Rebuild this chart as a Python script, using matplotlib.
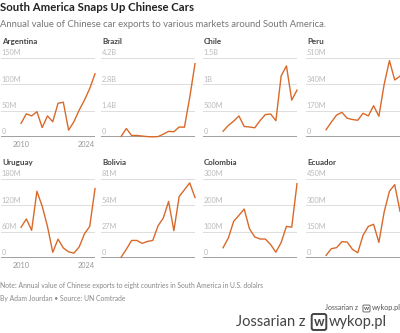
import numpy as np
import matplotlib as mpl
mpl.use("Agg")
import matplotlib.pyplot as plt

plt.rcParams['font.family'] = ['Lato', 'DejaVu Sans']

years = list(range(2010, 2025))
countries = ["Argentina", "Brazil", "Chile", "Peru",
             "Uruguay", "Bolivia", "Colombia", "Ecuador"]
# values in units of the tick labels (M or B)
argentina = [26, 44, 40, 48, 18, 40, 29, 64, 66, 13, 29, 51, 70, 92, 120]
brazil = [0.03, 0.45, 0.08, 0.08, 0.05, 0.02, 0.01, 0.02, 0.15, 0.3, 0.28, 0.53, 0.52, 2.1, 3.9]
chile = [0.11, 0.22, 0.3, 0.4, 0.2, 0.19, 0.175, 0.31, 0.425, 0.437, 0.31, 1.16, 1.35, 0.7, 0.89]
peru = [47, 96, 142, 159, 121, 113, 108, 153, 136, 202, 134, 340, 493, 368, 393]
uruguay = [70, 89, 63, 152, 118, 72, 13, 43, 23, 14, 11, 25, 55, 72, 158]
bolivia = [0.7, 9, 18, 18, 15, 17, 18, 33, 41, 58, 28, 63, 70, 77, 62]
colombia = [39, 76, 139, 162, 186, 111, 80, 72, 72, 51, 22, 59, 120, 117, 282]
ecuador = [15, 53, 59, 93, 91, 49, 30, 129, 180, 192, 89, 262, 380, 418, 266]
series = [argentina, brazil, chile, peru, uruguay, bolivia, colombia, ecuador]
ticks = [[0, 50, 100, 150], [0, 1.4, 2.8, 4.2], [0, 0.5, 1, 1.5], [0, 170, 340, 510],
         [0, 60, 120, 180], [0, 27, 54, 81], [0, 100, 200, 300], [0, 150, 300, 450]]
ticklabels = [["0", "50M", "100M", "150M"], ["0", "1.4B", "2.8B", "4.2B"],
              ["0", "500M", "1B", "1.5B"], ["0", "170M", "340M", "510M"],
              ["0", "60M", "120M", "180M"], ["0", "27M", "54M", "81M"],
              ["0", "100M", "200M", "300M"], ["0", "150M", "300M", "450M"]]

W, H = 400, 333
fig = plt.figure(figsize=(W/100, H/100), dpi=100)
orange = '#d9692a'

lefts = [1, 101, 203, 306]       # pixel x of panel left edge
pw = 94
tops = [58, 179]                  # pixel y of top gridline
ph = 79

for i, name in enumerate(countries):
    r, c = divmod(i, 4)
    x0, y0 = lefts[c], tops[r]
    ax = fig.add_axes([x0/W, 1-(y0+ph)/H, pw/W, ph/H])
    ax.set_xlim(2006.2, 2024)
    ax.set_ylim(0, ticks[i][-1])
    for t, lab in zip(ticks[i], ticklabels[i]):
        if t > 0:
            ax.axhline(t, color='#dddddd', lw=0.7, zorder=0)
        ax.annotate(lab, xy=(0, t), xycoords=('axes fraction', 'data'),
                    xytext=(0.5, 1.2), textcoords='offset points',
                    fontsize=5.3, color='#bbbbbb', ha='left', va='bottom')
    ax.axhline(0, color='#999999', lw=1.3, zorder=1)
    ax.plot(years, series[i], color=orange, lw=1.0, clip_on=False, zorder=3)
    for s in ax.spines.values():
        s.set_visible(False)
    ax.set_xticks([])
    ax.set_yticks([])
    ax.patch.set_alpha(0)
    fig.text((x0+1)/W, 1-(44 if r == 0 else 165)/H, name, fontsize=5.8,
             fontweight='bold', color='#444444', va='baseline')
    if c == 0:
        ax.text(2010, -0.1, "2010", transform=ax.get_xaxis_transform(),
                fontsize=5.3, color='#999999', ha='center', va='center')
        ax.text(2023.9, -0.1, "2024", transform=ax.get_xaxis_transform(),
                fontsize=5.3, color='#999999', ha='right', va='center')

fig.text(0.5/W, 1-11/H, "South America Snaps Up Chinese Cars", fontsize=8.2,
         fontweight='bold', color='#222222', va='baseline')
fig.text(0.5/W, 1-27/H, "Annual value of Chinese car exports to various markets around South America.",
         fontsize=6.8, color='#777777', va='baseline')
fig.text(0.5/W, 1-288/H, "Note: Annual value of Chinese exports to eight countries in South America in U.S. dolalrs",
         fontsize=4.85, color='#888888', va='baseline')
fig.text(0.5/W, 1-301/H, "By Adam Jourdan \u2022 Source: UN Comtrade",
         fontsize=4.85, color='#888888', va='baseline')

# watermark
fig.text(358/W, 1-310/H, "Jossarian z", fontsize=5, color='#555555', ha='right', va='baseline')
fig.text(366.5/W, 1-310/H, "w", fontsize=4.6, color='#555555', ha='center', va='baseline',
         fontweight='bold', bbox=dict(boxstyle='round,pad=0.15', fc='none', ec='#555555', lw=0.6))
fig.text(372/W, 1-310/H, "wykop.pl", fontsize=5.2, color='#555555', ha='left', va='baseline')
fig.text(306/W, 1-326/H, "Jossarian z", fontsize=10.5, color='#444444', ha='right', va='baseline')
fig.text(319/W, 1-326/H, "w", fontsize=9.5, color='#444444', ha='center', va='baseline',
         fontweight='bold', bbox=dict(boxstyle='round,pad=0.15', fc='none', ec='#444444', lw=1.4))
fig.text(329/W, 1-326/H, "wykop.pl", fontsize=10.5, color='#444444', ha='left', va='baseline')

fig.savefig("out.png", dpi=100)
